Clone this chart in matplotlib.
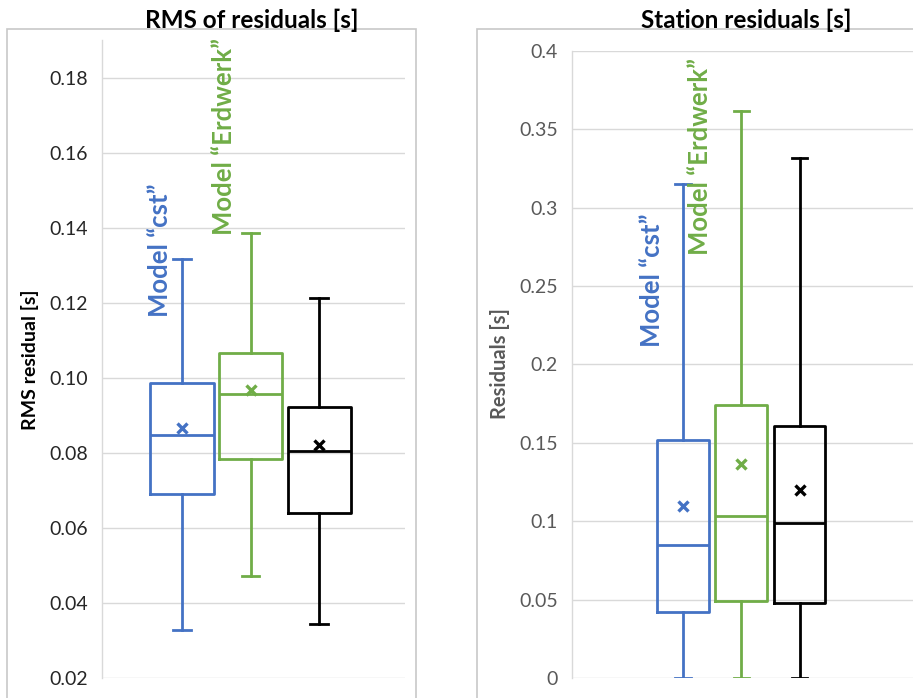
import matplotlib
matplotlib.use("Agg")
import matplotlib.pyplot as plt
from matplotlib.patches import Rectangle

plt.rcParams['font.family'] = ['Lato', 'DejaVu Sans']

# --- data ---
models = ["cst", "Erdwerk", "other"]
colors = ["#4472C4", "#70AD47", "#000000"]

# RMS of residuals [s]
rms_lo = [0.0328, 0.0471, 0.0343]
rms_q1 = [0.0690, 0.0783, 0.0639]
rms_med = [0.0847, 0.0957, 0.0805]
rms_q3 = [0.0987, 0.1067, 0.0921]
rms_hi = [0.1316, 0.1385, 0.1212]
rms_mean = [0.0865, 0.0967, 0.0820]
rms_ticks = [0.02, 0.04, 0.06, 0.08, 0.10, 0.12, 0.14, 0.16, 0.18]

# Station residuals [s]
st_lo = [0.0, 0.0, 0.0]
st_q1 = [0.0423, 0.0493, 0.0478]
st_med = [0.0850, 0.1033, 0.0989]
st_q3 = [0.1518, 0.1740, 0.1608]
st_hi = [0.3150, 0.3617, 0.3315]
st_mean = [0.1100, 0.1367, 0.1197]
st_ticks = [0, 0.05, 0.1, 0.15, 0.2, 0.25, 0.3, 0.35, 0.4]
st_ticklabels = ["0", "0.05", "0.1", "0.15", "0.2", "0.25", "0.3", "0.35", "0.4"]


def make_stats(lo, q1, med, q3, hi, mean):
    out = []
    for i in range(len(lo)):
        out.append(dict(whislo=lo[i], q1=q1[i], med=med[i], q3=q3[i],
                        whishi=hi[i], mean=mean[i], fliers=[]))
    return out


def draw_boxes(ax, stats, width, capw):
    pos = [1, 2, 3]
    art = ax.bxp(stats, positions=pos, widths=width, capwidths=capw,
                 showmeans=True, showfliers=False, patch_artist=False)
    for i, c in enumerate(colors):
        for ln in [art['boxes'][i], art['medians'][i]]:
            ln.set_color(c)
            ln.set_linewidth(2.0)
        for ln in art['whiskers'][2 * i:2 * i + 2] + art['caps'][2 * i:2 * i + 2]:
            ln.set_color(c)
            ln.set_linewidth(2.0)
        m = art['means'][i]
        m.set_marker('x')
        m.set_markersize(6.5)
        m.set_markeredgewidth(2.4)
        m.set_markeredgecolor(c)
        m.set_markerfacecolor(c)


def style_axes(ax, tick_color):
    for s in ['top', 'right', 'bottom']:
        ax.spines[s].set_visible(False)
    ax.spines['left'].set_color('#d9d9d9')
    ax.spines['left'].set_linewidth(1.0)
    ax.yaxis.grid(True, color='#d9d9d9', linewidth=1.0)
    ax.set_axisbelow(True)
    ax.set_xticks([])
    ax.tick_params(axis='y', length=0, pad=10, labelsize=14, labelcolor=tick_color)


fig = plt.figure(figsize=(9.13, 6.98), dpi=100)

# panel frames
fig.add_artist(Rectangle((0.0077, -0.1), 0.448, 1.0585, transform=fig.transFigure,
                         fill=False, edgecolor='#c8c8c8', linewidth=1.2))
fig.add_artist(Rectangle((0.5225, -0.1), 0.6, 1.0585, transform=fig.transFigure,
                         fill=False, edgecolor='#c8c8c8', linewidth=1.2))

# left panel
ax1 = fig.add_axes([0.1117, 0.02865, 0.3319, 0.914])
draw_boxes(ax1, make_stats(rms_lo, rms_q1, rms_med, rms_q3, rms_hi, rms_mean), 0.92, 0.26)
ax1.set_xlim(-0.168, 4.255)
ax1.set_ylim(0.02, 0.19)
ax1.set_yticks(rms_ticks)
ax1.set_yticklabels(["%.2f" % t for t in rms_ticks])
style_axes(ax1, '#262626')
ax1.text(0.68, 0.1161, "Model \u201ccst\u201d", rotation=90, ha='center', va='bottom',
         color=colors[0], fontsize=18.5, fontweight='bold')
ax1.text(1.62, 0.138, "Model \u201cErdwerk\u201d", rotation=90, ha='center', va='bottom',
         color=colors[1], fontsize=18.5, fontweight='bold')

# right panel
ax2 = fig.add_axes([0.6265, 0.02865, 0.3735, 0.8983])
draw_boxes(ax2, make_stats(st_lo, st_q1, st_med, st_q3, st_hi, st_mean), 0.89, 0.26)
ax2.set_xlim(-0.906, 4.948)
ax2.set_ylim(0, 0.4)
ax2.set_yticks(st_ticks)
ax2.set_yticklabels(st_ticklabels)
style_axes(ax2, '#595959')
ax2.text(0.468, 0.211, "Model \u201ccst\u201d", rotation=90, ha='center', va='bottom',
         color=colors[0], fontsize=18.5, fontweight='bold')
ax2.text(1.29, 0.27, "Model \u201cErdwerk\u201d", rotation=90, ha='center', va='bottom',
         color=colors[1], fontsize=18.5, fontweight='bold')

# titles and axis labels
fig.text(252 / 913, 1 - 20 / 698, "RMS of residuals [s]", ha='center', va='center',
         fontsize=17.5, fontweight='bold', color='black')
fig.text(746 / 913, 1 - 20 / 698, "Station residuals [s]", ha='center', va='center',
         fontsize=17.5, fontweight='bold', color='black')
fig.text(30 / 913, 1 - 360 / 698, "RMS residual [s]", rotation=90, ha='center', va='center',
         fontsize=14, fontweight='bold', color='black')
fig.text(500 / 913, 1 - 364 / 698, "Residuals [s]", rotation=90, ha='center', va='center',
         fontsize=14.5, fontweight='bold', color='#595959')

fig.savefig("out.png", dpi=100)
